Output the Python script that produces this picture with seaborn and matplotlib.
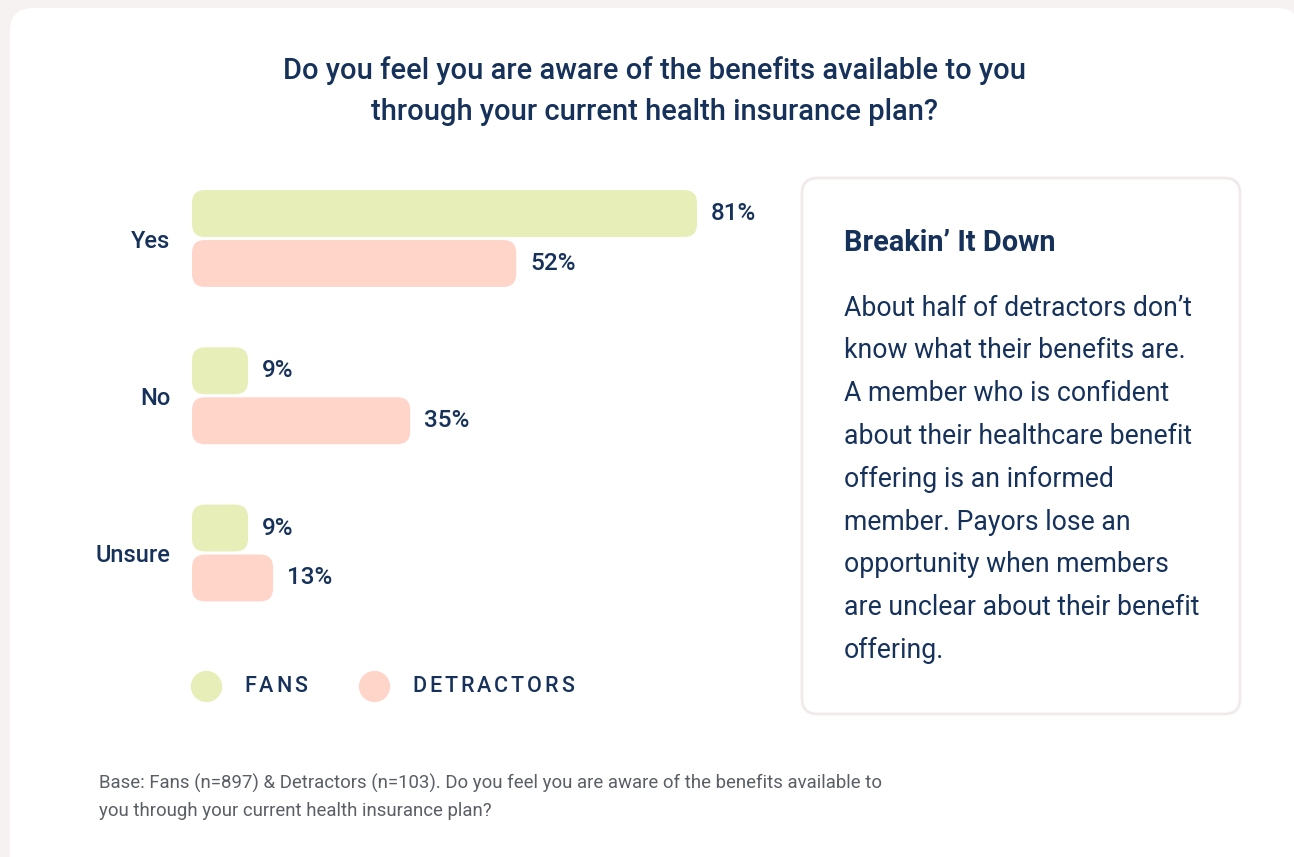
import matplotlib
matplotlib.use("Agg")
import matplotlib.pyplot as plt
from matplotlib.patches import FancyBboxPatch
from matplotlib.lines import Line2D
import seaborn as sns
import pandas as pd

# ---- data ----
categories = ["Yes", "No", "Unsure"]
groups = ["FANS", "DETRACTORS"]
fans = [81, 9, 9]
detractors = [52, 35, 13]

title_lines = [
    "Do you feel you are aware of the benefits available to you",
    "through your current health insurance plan?",
]
panel_heading = "Breakin\u2019 It Down"
panel_lines = [
    "About half of detractors don\u2019t",
    "know what their benefits are.",
    "A member who is confident",
    "about their healthcare benefit",
    "offering is an informed",
    "member. Payors lose an",
    "opportunity when members",
    "are unclear about their benefit",
    "offering.",
]
footnote_lines = [
    "Base: Fans (n=897) & Detractors (n=103). Do you feel you are aware of the benefits available to",
    "you through your current health insurance plan?",
]

# ---- style ----
NAVY = "#16315a"
GREY = "#5a5f66"
FAN_C = "#e8eeb8"
DET_C = "#ffd5ca"
BG = "#f5f2f1"

sns.set_theme(style="white")
plt.rcParams["font.family"] = ["Roboto", "DejaVu Sans"]

W, H = 1294, 857
fig = plt.figure(figsize=(W / 100, H / 100), dpi=100, facecolor=BG)


def fx(px):
    return px / W


def fy(py):
    return 1 - py / H


# white card
card = FancyBboxPatch((fx(10), fy(880)), fx(1300 - 10), (880 - 8) / H,
                      boxstyle="round,pad=0,rounding_size=0.018",
                      transform=fig.transFigure, facecolor="white",
                      edgecolor="none", mutation_aspect=W / H, zorder=0)
fig.add_artist(card)

# right-hand commentary panel
panel = FancyBboxPatch((fx(802), fy(714)), fx(1240 - 802), (714 - 178) / H,
                       boxstyle="round,pad=0,rounding_size=0.012",
                       transform=fig.transFigure, facecolor="white",
                       edgecolor="#f0ebea", linewidth=2,
                       mutation_aspect=W / H, zorder=1)
fig.add_artist(panel)

# ---- bar chart ----
x_px0, px_per_pct = 192, 6.235
row_px = 157.25
ax_w = 100 * px_per_pct
ax_h = 3 * row_px
ax_top = 238.5 - row_px / 2
ax = fig.add_axes([fx(x_px0), fy(ax_top + ax_h), ax_w / W, ax_h / H])
ax.set_facecolor("none")

df = pd.DataFrame({
    "answer": categories * 2,
    "group": [groups[0]] * 3 + [groups[1]] * 3,
    "pct": fans + detractors,
})
sns.barplot(data=df, y="answer", x="pct", hue="group", order=categories,
            hue_order=groups, palette=[FAN_C, DET_C], orient="h",
            width=0.635, gap=0.06, legend=False, ax=ax, saturation=1)

ax.set_xlim(0, 100)
ax.set_ylim(2.5, -0.5)
sns.despine(ax=ax, left=True, bottom=True)
ax.set_xticks([])
ax.set_xlabel("")
ax.set_ylabel("")
ax.tick_params(axis="y", length=0, pad=15.5)
for lab in ax.get_yticklabels():
    lab.set_fontsize(17)
    lab.set_fontweight("medium")
    lab.set_color(NAVY)

# value labels
for cont in ax.containers:
    vals = cont.datavalues
    ax.bar_label(cont, labels=[f"{v:.0f}%" for v in vals], padding=10,
                 fontsize=17.5, fontweight="medium", color=NAVY)

# round the bar ends
x_per_px = 100 / ax_w
y_per_px = 3 / ax_h
radius_px = 13
for cont in ax.containers:
    for bar in cont.patches:
        x, y = bar.get_x(), bar.get_y()
        w, h = bar.get_width(), bar.get_height()
        color = bar.get_facecolor()
        bar.set_visible(False)
        rb = FancyBboxPatch((x, y), w, h,
                            boxstyle=f"round,pad=0,rounding_size={radius_px * x_per_px}",
                            mutation_aspect=y_per_px / x_per_px,
                            facecolor=color, edgecolor="none", zorder=2)
        ax.add_patch(rb)

# ---- title ----
for i, line in enumerate(title_lines):
    fig.text(fx(654), fy(71 + 41 * i), line, ha="center", va="center",
             fontsize=21, fontweight="medium", color=NAVY)

# ---- panel text ----
fig.text(fx(844), fy(243), panel_heading, ha="left", va="center",
         fontsize=20.8, fontweight="bold", color=NAVY)
for i, line in enumerate(panel_lines):
    fig.text(fx(844), fy(308 + 42.8 * i), line, ha="left", va="center",
             fontsize=19.2, color=NAVY)

# ---- legend with letter-spaced labels ----
renderer = fig.canvas.get_renderer()


def spaced_text(x_px, y_px, s, spacing_px, **kw):
    cur = x_px
    for ch in s:
        t = fig.text(fx(cur), fy(y_px), ch, ha="left", va="center", **kw)
        cur += t.get_window_extent(renderer).width + spacing_px
    return cur


legend_items = [(206, 244, groups[0], FAN_C), (374, 412, groups[1], DET_C)]
for cx, tx, label, col in legend_items:
    fig.add_artist(Line2D([fx(cx)], [fy(686)], marker="o", markersize=21.5,
                          color=col, linestyle="none",
                          transform=fig.transFigure))
    spaced_text(tx, 686, label, 2.9, fontsize=15.5, fontweight="medium",
                color=NAVY)

# ---- footnote ----
for i, line in enumerate(footnote_lines):
    fig.text(fx(99), fy(783 + 28 * i), line, ha="left", va="center",
             fontsize=13.4, color=GREY)

fig.savefig("out.png", dpi=100, facecolor=BG)
